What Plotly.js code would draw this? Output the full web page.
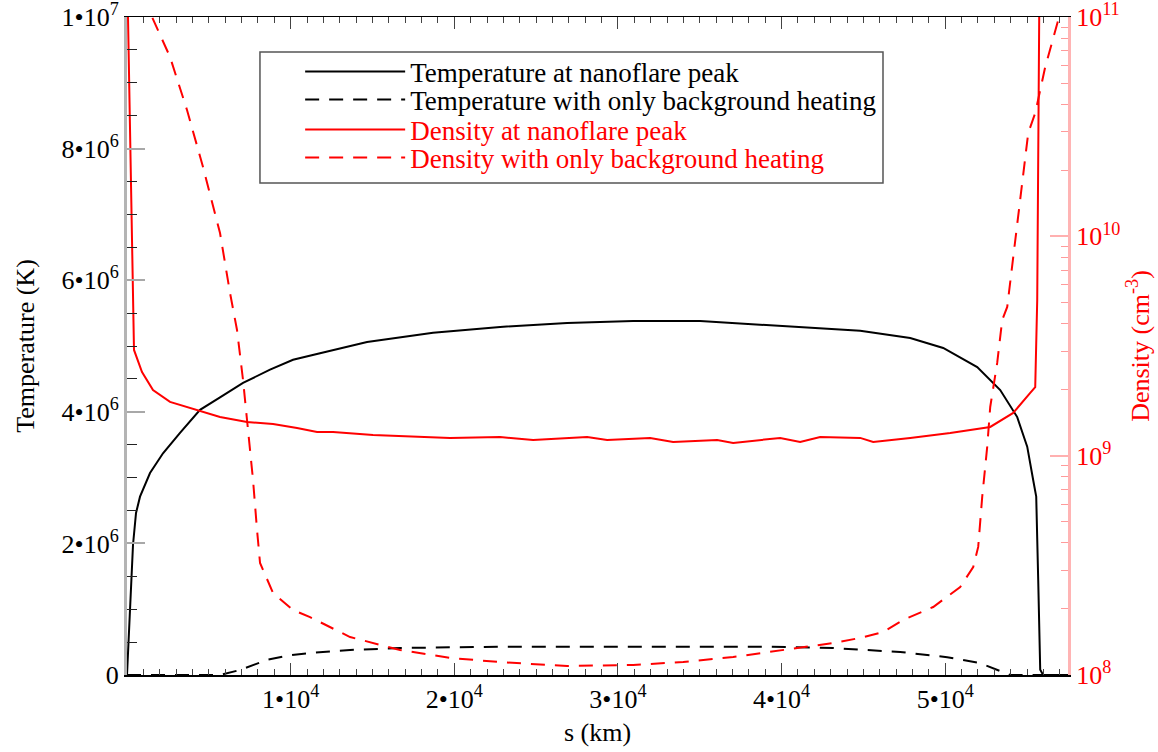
<!DOCTYPE html>
<html>
<head>
<meta charset="utf-8">
<script src="https://cdn.plot.ly/plotly-3.0.1.min.js"></script>
<style>html,body{margin:0;padding:0;background:#fff;}#chart{width:1158px;height:752px;}</style>
</head>
<body>
<div id="chart"></div>
<script>
// s (km) and temperature (K) at nanoflare peak
const tPeakS = [0,183,367,550,795,1406,2200,3239,4462,5684,7090,8740,10146,11796,14669,18703,22798,26893,30927,35022,39117,42356,44801,47857,49874,51952,53358,54397,55008,55375,55558,55680,55802,55986,57500];
const tPeakT = [0,0.99e6,1.98e6,2.46e6,2.71e6,3.07e6,3.37e6,3.68e6,4.03e6,4.22e6,4.44e6,4.64e6,4.79e6,4.89e6,5.06e6,5.20e6,5.29e6,5.35e6,5.38e6,5.38e6,5.32e6,5.27e6,5.23e6,5.12e6,4.97e6,4.68e6,4.33e6,3.92e6,3.47e6,2.96e6,2.71e6,1.44e6,0.08e6,0,0];

// temperature with only background heating
const tBgS = [0,5684,6906,8557,9963,11002,13630,16686,22798,39117,43151,47246,50119,52136,53358,53970,57500];
const tBgT = [0,0,0.076e6,0.23e6,0.30e6,0.33e6,0.38e6,0.41e6,0.43e6,0.43e6,0.41e6,0.35e6,0.27e6,0.18e6,0.06e6,0,0];

// density (cm^-3) at nanoflare peak, given as log10
const nPeakS = [61,244,428,917,1589,2628,4278,5684,7334,8924,10390,11613,12591,15036,19742,22798,24815,28116,29338,31966,33372,36061,37039,39912,41134,42356,44801,45596,47857,50302,52747,54153,55192,55497,55619,55680,55741];
const nPeakLog = [11.0,10.166,9.482,9.381,9.299,9.245,9.208,9.176,9.154,9.144,9.126,9.108,9.108,9.094,9.081,9.085,9.071,9.085,9.071,9.081,9.062,9.071,9.058,9.081,9.062,9.085,9.081,9.062,9.081,9.103,9.131,9.195,9.286,9.313,9.710,10.622,11.0];

// density with only background heating, log10
const nBgS = [1100,1528,2628,3667,4645,5684,6295,6723,7090,7396,7701,7946,8129,8924,10146,11185,13630,16686,19742,22798,26893,30927,33983,37039,41134,43151,44801,46207,47429,49263,50913,51708,52013,52258,52563,52747,53174,53480,53786,54091,54580,55069,55497,56108,56903];
const nBgLog = [11.1,11.0,10.818,10.576,10.316,10.015,9.742,9.573,9.345,9.117,8.889,8.661,8.511,8.374,8.296,8.264,8.173,8.114,8.078,8.059,8.041,8.046,8.059,8.082,8.123,8.146,8.169,8.196,8.251,8.310,8.401,8.492,8.584,8.812,9.040,9.222,9.423,9.619,9.678,9.860,10.166,10.471,10.562,10.772,10.986];

const xTickVals = [1e4,2e4,3e4,4e4,5e4];
const xTickText = ['1•10<sup>4</sup>','2•10<sup>4</sup>','3•10<sup>4</sup>','4•10<sup>4</sup>','5•10<sup>4</sup>'];
const yTickVals = [0,2e6,4e6,6e6,8e6,1e7];
const yTickText = ['0','2•10<sup>6</sup>','4•10<sup>6</sup>','6•10<sup>6</sup>','8•10<sup>6</sup>','1•10<sup>7</sup>'];
const y2TickVals = [1e8,1e9,1e10,1e11];
const y2TickText = ['10<sup>8</sup>','10<sup>9</sup>','10<sup>10</sup>','10<sup>11</sup>'];

const names = ['Temperature at nanoflare peak','Temperature with only background heating','Density at nanoflare peak','Density with only background heating'];

const pow10 = a => a.map(v => Math.pow(10, v));

const y2Minor = [];
for (let e = 8; e < 11; e++) for (let m = 2; m <= 9; m++) y2Minor.push(m * Math.pow(10, e));

const traces = [
  {x: tPeakS, y: tPeakT, mode: 'lines', name: names[0], legend: 'legend', line: {color: '#000', width: 2}},
  {x: tBgS, y: tBgT, mode: 'lines', name: names[1], legend: 'legend2', line: {color: '#000', width: 2, dash: '14px,10px'}},
  {x: nPeakS, y: pow10(nPeakLog), yaxis: 'y2', mode: 'lines', name: names[2], legend: 'legend3', line: {color: '#ff0000', width: 2}},
  {x: nBgS, y: pow10(nBgLog), yaxis: 'y2', mode: 'lines', name: names[3], legend: 'legend4', line: {color: '#ff0000', width: 2, dash: '14px,10px'}}
];

const font = 'Liberation Serif, Times New Roman, serif';

function leg(yc, color) {
  return {x: 0.184, y: yc, xanchor: 'left', yanchor: 'middle', bgcolor: 'rgba(0,0,0,0)', borderwidth: 0,
    font: {family: font, size: 27, color: color}, itemwidth: 100};
}

const layout = {
  width: 1158, height: 752,
  margin: {l: 127, r: 90, t: 17, b: 77},
  paper_bgcolor: '#fff', plot_bgcolor: '#fff',
  font: {family: font, size: 26, color: '#000'},
  showlegend: true,
  legend: leg(0.9164, '#000'),
  legend2: leg(0.8739, '#000'),
  legend3: leg(0.8283, '#ff0000'),
  legend4: leg(0.7857, '#ff0000'),
  shapes: [{type: 'rect', xref: 'paper', yref: 'paper', x0: 0.1413, x1: 0.8034, y0: 0.7477, y1: 0.9468,
    line: {color: '#555', width: 1.5}, fillcolor: 'rgba(0,0,0,0)', layer: 'above'}],
  xaxis: {
    range: [0, 57500], showgrid: false, zeroline: false,
    showline: true, linecolor: '#000', linewidth: 1.5, mirror: 'ticks',
    ticks: 'inside', ticklen: 12, tickwidth: 1, tickcolor: '#444',
    tickmode: 'array', tickvals: xTickVals, ticktext: xTickText,
    minor: {ticks: 'inside', ticklen: 6, tickcolor: '#444', dtick: 1000, tick0: 0, showgrid: false},
    tickfont: {family: font, size: 26, color: '#000'},
    title: {text: 's (km)', font: {family: font, size: 26, color: '#000'}, standoff: 10}
  },
  yaxis: {
    range: [0, 1e7], showgrid: false, zeroline: false,
    showline: true, linecolor: '#b4b4b4', linewidth: 3,
    ticks: 'inside', ticklen: 18, tickwidth: 2, tickcolor: '#a8a8a8',
    tickmode: 'array', tickvals: yTickVals, ticktext: yTickText, ticklabeloverflow: 'allow',
    minor: {ticks: 'inside', ticklen: 10, tickcolor: '#222', tickwidth: 1, dtick: 5e5, tick0: 0, showgrid: false},
    tickfont: {family: font, size: 26, color: '#000'},
    title: {text: 'Temperature (K)', font: {family: font, size: 26, color: '#000'}, standoff: 20}
  },
  yaxis2: {
    type: 'log', range: [8, 11], overlaying: 'y', side: 'right', anchor: 'x',
    showgrid: false, zeroline: false,
    showline: true, linecolor: '#ffb4b4', linewidth: 3,
    ticks: 'inside', ticklen: 18, tickwidth: 2, tickcolor: '#ffb0b0',
    tickmode: 'array', tickvals: y2TickVals, ticktext: y2TickText, ticklabeloverflow: 'allow',
    minor: {ticks: 'inside', ticklen: 7, tickcolor: '#ff9a9a', tickwidth: 1, tickmode: 'array', tickvals: y2Minor, showgrid: false},
    tickfont: {family: font, size: 26, color: '#ff0000'},
    title: {text: 'Density (cm<sup>-3</sup>)', font: {family: font, size: 26, color: '#ff0000'}, standoff: 12}
  }
};

Plotly.newPlot('chart', traces, layout, {displayModeBar: false, staticPlot: true});
</script>
</body>
</html>
